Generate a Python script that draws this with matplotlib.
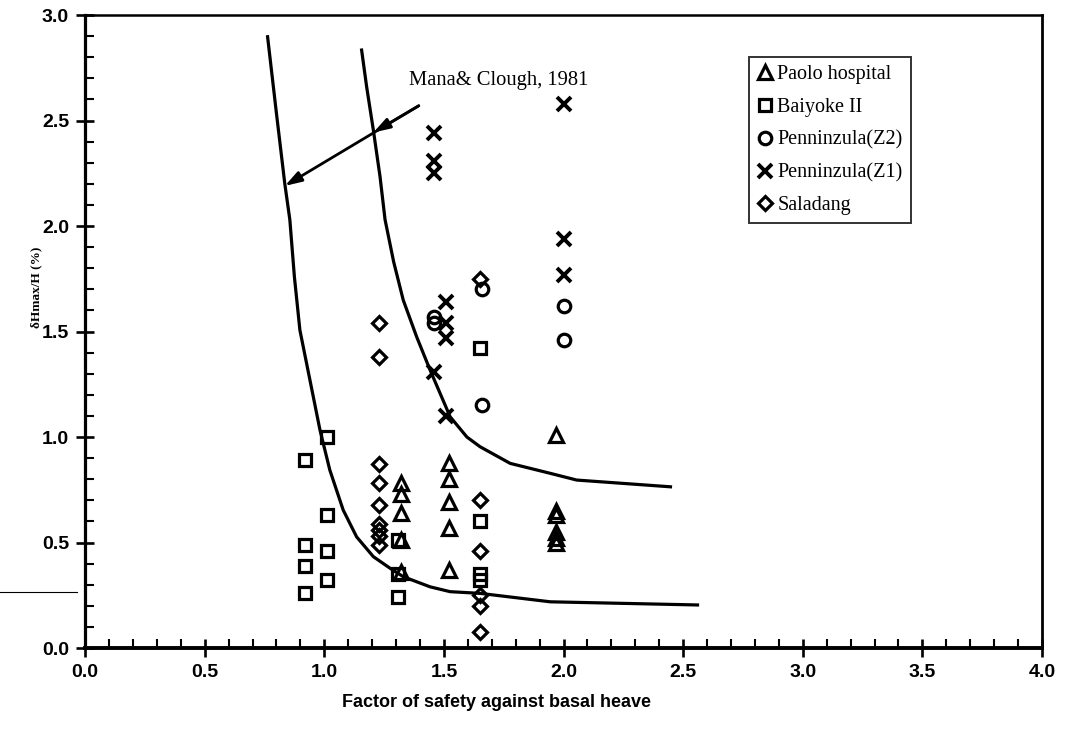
import matplotlib
matplotlib.use("Agg")
import matplotlib.pyplot as plt
from matplotlib.ticker import MultipleLocator, FormatStrFormatter
from matplotlib.lines import Line2D

# Field observations: factor of safety vs normalised max wall deflection
paolo_x = [1.32, 1.32, 1.32, 1.32, 1.32, 1.52, 1.52, 1.52, 1.52, 1.52,
           1.97, 1.97, 1.97, 1.97, 1.97, 1.97]
paolo_y = [0.78, 0.73, 0.64, 0.51, 0.36, 0.875, 0.80, 0.69, 0.57, 0.37,
           1.01, 0.65, 0.63, 0.55, 0.52, 0.50]

baiyoke_x = [0.92, 0.92, 0.92, 0.92, 1.01, 1.01, 1.01, 1.01,
             1.31, 1.31, 1.31, 1.65, 1.65, 1.65, 1.65]
baiyoke_y = [0.89, 0.49, 0.39, 0.26, 1.00, 0.63, 0.46, 0.32,
             0.51, 0.35, 0.24, 1.42, 0.60, 0.35, 0.32]

penn_z2_x = [1.46, 1.46, 1.66, 1.66, 2.00, 2.00]
penn_z2_y = [1.57, 1.54, 1.70, 1.15, 1.62, 1.46]

penn_z1_x = [1.46, 1.46, 1.46, 1.51, 1.51, 1.51, 1.46, 1.51, 2.00, 2.00, 2.00]
penn_z1_y = [2.44, 2.31, 2.25, 1.64, 1.54, 1.47, 1.31, 1.10, 2.58, 1.94, 1.77]

saladang_x = [1.23, 1.23, 1.23, 1.23, 1.23, 1.23, 1.23, 1.23, 1.23,
              1.65, 1.65, 1.65, 1.65, 1.65, 1.65]
saladang_y = [1.54, 1.38, 0.87, 0.78, 0.68, 0.59, 0.56, 0.53, 0.49,
              1.75, 0.70, 0.46, 0.25, 0.20, 0.075]

# Mana & Clough (1981) design curves
curve_low_x = [0.763, 0.80, 0.835, 0.856, 0.875, 0.898, 0.94, 0.982, 1.023,
               1.079, 1.135, 1.205, 1.275, 1.33, 1.442, 1.526, 1.651, 1.944,
               2.56]
curve_low_y = [2.897, 2.534, 2.20, 2.03, 1.76, 1.507, 1.27, 1.033, 0.844,
               0.654, 0.527, 0.433, 0.378, 0.338, 0.29, 0.267, 0.259, 0.219,
               0.204]
curve_high_x = [1.156, 1.177, 1.205, 1.233, 1.254, 1.29, 1.33, 1.386, 1.442,
                1.526, 1.596, 1.651, 1.777, 1.944, 2.055, 2.447]
curve_high_y = [2.834, 2.66, 2.455, 2.234, 2.03, 1.83, 1.649, 1.475, 1.318,
                1.096, 1.0, 0.954, 0.875, 0.828, 0.796, 0.764]

fig = plt.figure(figsize=(10.67, 7.29), dpi=100)
ax = fig.add_axes([0.0797, 0.1111, 0.8969, 0.8683])

serif = ["Liberation Serif", "DejaVu Serif"]
sans = ["Liberation Sans", "DejaVu Sans"]

ax.plot(curve_low_x, curve_low_y, color="black", lw=2.3, zorder=2)
ax.plot(curve_high_x, curve_high_y, color="black", lw=2.3, zorder=2)

mk = dict(linestyle="none", markerfacecolor="none", markeredgecolor="black",
          markeredgewidth=2.3, zorder=3)
ax.plot(paolo_x, paolo_y, marker="^", markersize=10, label="Paolo hospital", **mk)
ax.plot(baiyoke_x, baiyoke_y, marker="s", markersize=9, label="Baiyoke II", **mk)
ax.plot(penn_z2_x, penn_z2_y, marker="o", markersize=9, label="Penninzula(Z2)", **mk)
ax.plot(penn_z1_x, penn_z1_y, marker="x", markersize=9.5, linestyle="none",
        color="black", markeredgewidth=2.8, label="Penninzula(Z1)", zorder=3)
ax.plot(saladang_x, saladang_y, marker="D", markersize=7.5, label="Saladang", **mk)

# Pointer arrows to the two curves
arrow = dict(arrowstyle="-|>,head_length=1.0,head_width=0.32", lw=2.0,
             color="black", shrinkA=0, shrinkB=0)
ax.annotate("", xy=(0.835, 2.19), xytext=(1.395, 2.57), arrowprops=arrow)
ax.annotate("", xy=(1.205, 2.443), xytext=(1.395, 2.57), arrowprops=arrow)
ax.text(1.356, 2.69, "Mana& Clough, 1981", family=serif, fontsize=14.8,
        ha="left", va="center")

ax.set_xlim(0, 4.0)
ax.set_ylim(0, 3.0)
ax.xaxis.set_major_locator(MultipleLocator(0.5))
ax.xaxis.set_minor_locator(MultipleLocator(0.1))
ax.yaxis.set_major_locator(MultipleLocator(0.5))
ax.yaxis.set_minor_locator(MultipleLocator(0.1))
ax.xaxis.set_major_formatter(FormatStrFormatter("%.1f"))
ax.yaxis.set_major_formatter(FormatStrFormatter("%.1f"))

ax.tick_params(which="major", direction="inout", length=13, width=1.9,
               labelsize=14, pad=5)
ax.tick_params(which="minor", direction="in", length=6.5, width=1.5)
for lab in ax.get_xticklabels() + ax.get_yticklabels():
    lab.set_family(sans)
    lab.set_fontweight("bold")

for side, lw in (("left", 2.3), ("bottom", 2.8), ("top", 1.8), ("right", 2.0)):
    ax.spines[side].set_linewidth(lw)

ax.set_xlabel("Factor of safety against basal heave", family=sans,
              fontweight="bold", fontsize=13)
ax.xaxis.set_label_coords(0.43, -0.072)
ax.set_ylabel("\u03b4Hmax/H (%)", family=serif, fontweight="bold",
              fontsize=9.5)
ax.yaxis.set_label_coords(-0.045, 0.57)

leg = ax.legend(loc="upper left", bbox_to_anchor=(0.694, 0.934),
                prop={"family": serif, "size": 14.5}, frameon=True,
                fancybox=False, edgecolor="black", handlelength=0.8,
                handletextpad=0.2, borderpad=0.4, labelspacing=0.68,
                borderaxespad=0)
leg.get_frame().set_linewidth(1.4)

# short stray rule at the left margin
fig.add_artist(Line2D([0.0, 0.072], [1 - 592 / 729, 1 - 592 / 729],
                      transform=fig.transFigure, color="black", lw=0.8))

fig.savefig("out.png", dpi=100)
